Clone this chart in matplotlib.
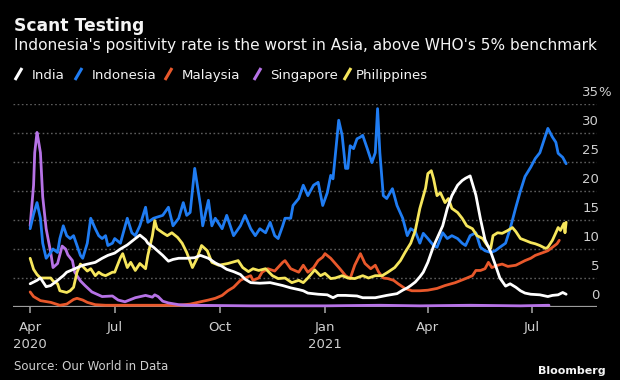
import matplotlib
matplotlib.use('Agg')
import matplotlib.pyplot as plt
import matplotlib.transforms as mtransforms
from matplotlib.lines import Line2D
import pandas as pd


# ── palette ──────────────────────────────────────────────────────────────────

BG      = '#000000'
C_GRID  = '#5c5c5c'
C_AXIS  = '#9c9c9c'
C_TICK  = '#cfcfcf'
C_TEXT  = '#f4f4f4'

C_INDIA = '#ffffff'
C_IDN   = '#1f7cf2'
C_MYS   = '#e8582b'
C_SGP   = '#b672e6'
C_PHL   = '#f6e65c'

W, H = 620, 380


# ── data (positivity rate, %) ────────────────────────────────────────────────

idn_dates = [
    '2020-04-18', '2020-04-21', '2020-04-24', '2020-04-27', '2020-04-29', '2020-05-02',
    '2020-05-06', '2020-05-08', '2020-05-12', '2020-05-14', '2020-05-17', '2020-05-20',
    '2020-05-23', '2020-05-26', '2020-05-29', '2020-06-01', '2020-06-03', '2020-06-07',
    '2020-06-10', '2020-06-14', '2020-06-17', '2020-06-20', '2020-06-23', '2020-06-25',
    '2020-06-29', '2020-07-01', '2020-07-06', '2020-07-12', '2020-07-16', '2020-07-19',
    '2020-07-23', '2020-07-28', '2020-07-30', '2020-08-04', '2020-08-12', '2020-08-17',
    '2020-08-21', '2020-08-26', '2020-08-30', '2020-09-02', '2020-09-05', '2020-09-09',
    '2020-09-14', '2020-09-16', '2020-09-21', '2020-09-24', '2020-09-27', '2020-10-03',
    '2020-10-07', '2020-10-13', '2020-10-19', '2020-10-23', '2020-10-28', '2020-11-01',
    '2020-11-05', '2020-11-10', '2020-11-14', '2020-11-18', '2020-11-21', '2020-11-25',
    '2020-11-27', '2020-12-02', '2020-12-04', '2020-12-09', '2020-12-13', '2020-12-17',
    '2020-12-22', '2020-12-26', '2020-12-30', '2021-01-03', '2021-01-06', '2021-01-08',
    '2021-01-12', '2021-01-13', '2021-01-16', '2021-01-19', '2021-01-21', '2021-01-23',
    '2021-01-26', '2021-01-29', '2021-02-01', '2021-02-03', '2021-02-07', '2021-02-11',
    '2021-02-14', '2021-02-16', '2021-02-18', '2021-02-21', '2021-02-24', '2021-03-01',
    '2021-03-05', '2021-03-10', '2021-03-14', '2021-03-17', '2021-03-21', '2021-03-25',
    '2021-03-28', '2021-04-01', '2021-04-06', '2021-04-09', '2021-04-14', '2021-04-18',
    '2021-04-22', '2021-04-27', '2021-05-01', '2021-05-04', '2021-05-08', '2021-05-13',
    '2021-05-17', '2021-05-21', '2021-05-26', '2021-05-30', '2021-06-03', '2021-06-08',
    '2021-06-12', '2021-06-17', '2021-06-21', '2021-06-25', '2021-06-30', '2021-07-04',
    '2021-07-08', '2021-07-11', '2021-07-15', '2021-07-19', '2021-07-22', '2021-07-24',
    '2021-07-28', '2021-07-31',
]
idn_vals = [
    13.5, 16.0, 18.0, 15.3, 11.0, 8.4,
    9.4, 10.0, 9.4, 11.8, 14.0, 12.3,
    11.8, 12.3, 10.6, 8.9, 8.4, 11.0,
    15.3, 13.5, 12.3, 11.8, 12.3, 10.6,
    11.0, 11.8, 11.0, 15.3, 12.8, 12.3,
    14.0, 17.2, 14.6, 15.3, 15.8, 17.2,
    14.0, 15.3, 18.0, 15.8, 16.3, 23.9,
    17.5, 14.0, 18.4, 14.0, 15.3, 13.5,
    15.8, 12.3, 14.0, 15.8, 13.5, 12.3,
    13.5, 12.8, 14.6, 12.3, 11.8, 14.0,
    15.3, 15.3, 17.5, 18.7, 21.0, 19.2,
    21.0, 21.5, 17.5, 19.7, 22.7, 22.1,
    30.1, 32.2, 29.6, 23.9, 23.9, 27.8,
    27.3, 29.0, 29.3, 29.6, 27.3, 24.9,
    26.6, 34.2, 26.6, 19.2, 18.7, 20.4,
    17.5, 15.3, 12.3, 13.5, 13.0, 11.0,
    12.7, 11.8, 10.6, 10.3, 12.8, 11.8,
    12.3, 11.8, 11.0, 10.6, 12.3, 12.8,
    10.3, 9.7, 9.4, 9.7, 10.3, 11.0,
    13.5, 17.2, 20.0, 22.5, 24.1, 25.6,
    26.6, 28.4, 30.8, 29.3, 28.4, 26.5,
    25.8, 24.7,
]

ind_dates = [
    '2020-04-18', '2020-04-24', '2020-04-27', '2020-05-02', '2020-05-06', '2020-05-12',
    '2020-05-17', '2020-05-20', '2020-05-26', '2020-06-03', '2020-06-14', '2020-06-20',
    '2020-06-25', '2020-07-01', '2020-07-06', '2020-07-12', '2020-07-19', '2020-07-23',
    '2020-07-28', '2020-07-30', '2020-08-04', '2020-08-12', '2020-08-17', '2020-08-21',
    '2020-08-26', '2020-09-02', '2020-09-09', '2020-09-14', '2020-09-21', '2020-09-27',
    '2020-10-03', '2020-10-07', '2020-10-13', '2020-10-19', '2020-10-23', '2020-10-28',
    '2020-11-05', '2020-11-14', '2020-11-25', '2020-12-02', '2020-12-09', '2020-12-13',
    '2020-12-17', '2020-12-26', '2021-01-03', '2021-01-08', '2021-01-12', '2021-01-19',
    '2021-01-29', '2021-02-03', '2021-02-14', '2021-02-24', '2021-03-05', '2021-03-10',
    '2021-03-14', '2021-03-17', '2021-03-21', '2021-03-25', '2021-03-28', '2021-04-01',
    '2021-04-06', '2021-04-14', '2021-04-18', '2021-04-22', '2021-04-27', '2021-05-01',
    '2021-05-04', '2021-05-08', '2021-05-13', '2021-05-17', '2021-05-21', '2021-05-26',
    '2021-05-30', '2021-06-03', '2021-06-08', '2021-06-12', '2021-06-17', '2021-06-21',
    '2021-06-25', '2021-06-30', '2021-07-08', '2021-07-15', '2021-07-19', '2021-07-24',
    '2021-07-28', '2021-07-31',
]
ind_vals = [
    4.0, 4.6, 5.0, 3.5, 3.7, 4.6,
    5.4, 6.0, 6.5, 7.2, 7.7, 8.4,
    8.9, 9.3, 10.0, 10.7, 11.8, 12.4,
    11.6, 11.0, 10.3, 8.9, 7.9, 8.2,
    8.4, 8.4, 8.5, 8.9, 8.4, 7.6,
    7.0, 6.5, 6.1, 5.6, 4.8, 4.2,
    4.1, 4.2, 3.7, 3.3, 3.0, 2.8,
    2.4, 2.2, 2.1, 1.6, 2.0, 2.0,
    1.9, 1.6, 1.6, 2.0, 2.3, 2.9,
    3.3, 3.7, 4.3, 5.2, 6.0, 7.7,
    10.5, 14.0, 17.0, 19.2, 21.0, 21.8,
    22.2, 22.6, 19.3, 15.2, 11.6, 9.5,
    7.3, 5.0, 3.6, 4.0, 3.4, 2.8,
    2.4, 2.2, 2.1, 1.8, 2.0, 2.1,
    2.5, 2.2,
]

phl_dates = [
    '2020-04-18', '2020-04-21', '2020-04-24', '2020-04-27', '2020-05-06', '2020-05-08',
    '2020-05-12', '2020-05-14', '2020-05-20', '2020-05-23', '2020-05-26', '2020-05-29',
    '2020-06-01', '2020-06-03', '2020-06-07', '2020-06-10', '2020-06-14', '2020-06-17',
    '2020-06-20', '2020-06-23', '2020-06-29', '2020-07-01', '2020-07-06', '2020-07-08',
    '2020-07-12', '2020-07-15', '2020-07-19', '2020-07-23', '2020-07-28', '2020-07-30',
    '2020-08-03', '2020-08-05', '2020-08-07', '2020-08-12', '2020-08-16', '2020-08-20',
    '2020-08-25', '2020-08-29', '2020-09-02', '2020-09-07', '2020-09-11', '2020-09-15',
    '2020-09-20', '2020-09-24', '2020-09-30', '2020-10-08', '2020-10-17', '2020-10-21',
    '2020-10-26', '2020-10-30', '2020-11-04', '2020-11-10', '2020-11-16', '2020-11-21',
    '2020-11-27', '2020-12-03', '2020-12-09', '2020-12-13', '2020-12-17', '2020-12-23',
    '2020-12-28', '2021-01-01', '2021-01-06', '2021-01-10', '2021-01-16', '2021-01-21',
    '2021-01-27', '2021-02-03', '2021-02-08', '2021-02-14', '2021-02-20', '2021-02-25',
    '2021-03-03', '2021-03-08', '2021-03-12', '2021-03-17', '2021-03-21', '2021-03-25',
    '2021-03-30', '2021-04-01', '2021-04-04', '2021-04-06', '2021-04-09', '2021-04-12',
    '2021-04-16', '2021-04-19', '2021-04-22', '2021-04-27', '2021-05-01', '2021-05-05',
    '2021-05-10', '2021-05-14', '2021-05-19', '2021-05-23', '2021-05-26', '2021-05-28',
    '2021-06-01', '2021-06-05', '2021-06-10', '2021-06-14', '2021-06-17', '2021-06-21',
    '2021-06-25', '2021-06-30', '2021-07-04', '2021-07-08', '2021-07-13', '2021-07-15',
    '2021-07-19', '2021-07-22', '2021-07-24', '2021-07-26', '2021-07-29', '2021-07-30',
    '2021-07-31',
]
phl_vals = [
    8.4, 6.5, 5.6, 5.0, 5.0, 4.5,
    4.0, 2.8, 2.5, 2.8, 3.4, 6.0,
    7.4, 7.0, 6.2, 6.6, 5.4, 6.0,
    5.6, 5.4, 6.0, 6.0, 8.5, 9.2,
    6.8, 7.7, 6.3, 7.5, 6.6, 8.9,
    12.3, 14.9, 13.5, 12.8, 12.3, 12.8,
    12.0, 11.0, 9.4, 6.8, 8.4, 10.6,
    9.7, 7.7, 7.2, 7.5, 8.0, 6.8,
    6.1, 6.6, 6.3, 6.6, 5.4, 4.9,
    5.0, 4.2, 4.6, 4.2, 5.0, 6.4,
    5.4, 5.8, 4.9, 5.0, 5.4, 5.0,
    4.9, 5.4, 5.0, 5.4, 5.4, 6.0,
    6.8, 8.0, 9.4, 11.0, 13.2, 17.0,
    20.5, 23.0, 23.5, 22.1, 19.2, 19.7,
    18.0, 18.7, 17.0, 16.3, 15.3, 14.0,
    13.5, 12.3, 11.8, 10.6, 10.1, 12.3,
    12.8, 12.7, 13.2, 13.7, 13.0, 11.8,
    11.5, 11.1, 10.9, 10.6, 10.1, 10.3,
    11.5, 12.8, 13.7, 13.2, 14.4, 12.8,
    14.6,
]

mys_dates = [
    '2020-04-18', '2020-04-21', '2020-04-27', '2020-05-06', '2020-05-14', '2020-05-20',
    '2020-05-26', '2020-05-29', '2020-06-03', '2020-06-07', '2020-06-14', '2020-06-23',
    '2020-07-06', '2020-07-23', '2020-08-12', '2020-08-26', '2020-09-05', '2020-09-14',
    '2020-09-21', '2020-09-27', '2020-10-03', '2020-10-08', '2020-10-13', '2020-10-19',
    '2020-10-23', '2020-10-28', '2020-10-30', '2020-11-04', '2020-11-07', '2020-11-12',
    '2020-11-18', '2020-11-25', '2020-11-27', '2020-12-02', '2020-12-09', '2020-12-13',
    '2020-12-17', '2020-12-22', '2020-12-26', '2020-12-30', '2021-01-01', '2021-01-06',
    '2021-01-10', '2021-01-14', '2021-01-19', '2021-01-23', '2021-01-27', '2021-02-01',
    '2021-02-05', '2021-02-10', '2021-02-14', '2021-02-17', '2021-02-21', '2021-02-25',
    '2021-03-02', '2021-03-06', '2021-03-12', '2021-03-18', '2021-03-25', '2021-04-01',
    '2021-04-09', '2021-04-16', '2021-04-25', '2021-05-04', '2021-05-10', '2021-05-13',
    '2021-05-17', '2021-05-21', '2021-05-24', '2021-05-27', '2021-06-01', '2021-06-05',
    '2021-06-10', '2021-06-17', '2021-06-25', '2021-06-30', '2021-07-04', '2021-07-11',
    '2021-07-15', '2021-07-19', '2021-07-23', '2021-07-25',
]
mys_vals = [
    2.6, 1.8, 1.1, 0.8, 0.3, 0.5,
    1.3, 1.5, 1.2, 0.8, 0.4, 0.3,
    0.3, 0.3, 0.3, 0.3, 0.5, 0.9,
    1.2, 1.5, 2.0, 2.8, 3.4, 4.6,
    5.0, 5.4, 4.6, 5.0, 6.0, 6.6,
    6.2, 7.7, 8.0, 6.6, 6.0, 7.2,
    6.0, 6.8, 8.0, 8.6, 9.2, 8.4,
    7.5, 6.6, 5.4, 4.9, 7.2, 9.2,
    7.5, 6.6, 7.2, 6.0, 5.0, 4.9,
    4.6, 4.0, 3.2, 2.8, 2.8, 2.9,
    3.2, 3.7, 4.2, 4.9, 5.4, 6.3,
    6.3, 6.6, 7.7, 6.8, 7.2, 7.4,
    7.0, 7.2, 8.0, 8.4, 8.9, 9.4,
    9.7, 10.3, 10.9, 11.5,
]

sgp_dates = [
    '2020-04-18', '2020-04-21', '2020-04-22', '2020-04-24', '2020-04-25', '2020-04-27',
    '2020-04-29', '2020-05-02', '2020-05-06', '2020-05-08', '2020-05-12', '2020-05-16',
    '2020-05-19', '2020-05-21', '2020-05-25', '2020-05-27', '2020-06-01', '2020-06-05',
    '2020-06-11', '2020-06-20', '2020-06-29', '2020-07-04', '2020-07-10', '2020-07-19',
    '2020-07-28', '2020-08-03', '2020-08-05', '2020-08-08', '2020-08-12', '2020-08-17',
    '2020-08-26', '2020-09-05', '2020-10-28', '2021-01-01', '2021-02-18', '2021-03-25',
    '2021-05-08', '2021-06-21', '2021-07-16',
]
sgp_vals = [
    14.0, 21.0, 26.6, 30.1, 29.0, 26.6,
    19.0, 13.5, 9.4, 6.8, 7.5, 10.5,
    10.0, 9.0, 8.0, 6.0, 4.5, 3.7,
    2.6, 1.8, 1.9, 1.2, 0.9, 1.6,
    2.0, 1.7, 2.1, 1.8, 1.0, 0.7,
    0.4, 0.3, 0.2, 0.2, 0.3, 0.2,
    0.3, 0.2, 0.3,
]

y_ticks = [0, 5, 10, 15, 20, 25, 30, 35]
x_tick_dates = ['2020-04-18', '2020-07-01', '2020-10-01', '2021-01-01', '2021-04-01', '2021-07-01']
x_tick_labels = ['Apr\n2020', 'Jul', 'Oct', 'Jan\n2021', 'Apr', 'Jul']

series = [
    # label, dates, values, colour, zorder
    ('Malaysia',    mys_dates, mys_vals, C_MYS,   3),
    ('Singapore',   sgp_dates, sgp_vals, C_SGP,   4),
    ('Indonesia',   idn_dates, idn_vals, C_IDN,   5),
    ('Philippines', phl_dates, phl_vals, C_PHL,   6),
    ('India',       ind_dates, ind_vals, C_INDIA, 7),
]

legend_items = [('India', C_INDIA), ('Indonesia', C_IDN), ('Malaysia', C_MYS),
                ('Singapore', C_SGP), ('Philippines', C_PHL)]


# ── helpers ──────────────────────────────────────────────────────────────────

def fx(px):
    return px / W

def fy(py):
    return 1 - py / H


# ── chart ────────────────────────────────────────────────────────────────────

def main():
    plt.rcParams['font.family'] = 'DejaVu Sans'
    fig = plt.figure(figsize=(W / 100, H / 100), dpi=100, facecolor=BG)

    ax = fig.add_axes([fx(13), fy(307), fx(597) - fx(13), fy(104) - fy(307)])
    ax.set_facecolor(BG)
    for s in ax.spines.values():
        s.set_visible(False)

    # gridlines + baseline
    for v in y_ticks[1:]:
        ax.axhline(v, color=C_GRID, lw=1.0, ls=(0, (1.2, 1.8)), zorder=1)
    ax.axhline(0, color=C_AXIS, lw=1.6, zorder=2)

    for name, d, v, c, z in series:
        ax.plot(pd.to_datetime(d), v, color=c, lw=2.0, zorder=z,
                solid_joinstyle='round', solid_capstyle='round', clip_on=False)

    ax.set_ylim(0, 35)
    ax.set_xlim(pd.Timestamp('2020-04-03'), pd.Timestamp('2021-08-27'))

    ax.set_yticks([])
    ax.set_xticks(pd.to_datetime(x_tick_dates))
    ax.set_xticklabels(x_tick_labels, linespacing=1.4)
    ax.tick_params(axis='x', length=4, width=1.2, color=C_AXIS, colors=C_TICK,
                   labelsize=9.5, pad=6)
    for lab in ax.get_xticklabels():
        lab.set_color(C_TICK)

    # right-hand y labels sitting on top of their gridlines
    trans = mtransforms.blended_transform_factory(ax.transAxes, ax.transData)
    for v in y_ticks:
        ax.annotate(str(v), xy=(1, v), xycoords=trans, xytext=(1.5, 5.5),
                    textcoords='offset points', ha='right', va='baseline',
                    fontsize=9.5, color=C_TICK, annotation_clip=False)
    ax.annotate('%', xy=(1, 35), xycoords=trans, xytext=(1.0, 5.5),
                textcoords='offset points', ha='left', va='baseline',
                fontsize=9.5, color=C_TICK, annotation_clip=False)

    # titles
    fig.text(fx(14), fy(31), 'Scant Testing', fontsize=12.3, fontweight='bold',
             color=C_TEXT, va='baseline')
    fig.text(fx(14), fy(50),
             "Indonesia's positivity rate is the worst in Asia, above WHO's 5% benchmark",
             fontsize=11.1, color=C_TEXT, va='baseline')

    # legend: coloured slashes + labels
    slash_x = [15, 75, 165, 254, 344]
    text_x = [32, 92, 182, 270, 356]
    for (name, c), sx, tx in zip(legend_items, slash_x, text_x):
        fig.add_artist(Line2D([fx(sx), fx(sx + 7)], [fy(80), fy(68)],
                              transform=fig.transFigure, color=c, lw=2.2,
                              solid_capstyle='butt'))
        fig.text(fx(tx), fy(79), name, fontsize=9.6, color=C_TEXT, va='baseline')

    # footer
    fig.text(fx(14), fy(367), 'Source: Our World in Data', fontsize=8.5,
             color=C_TICK, va='center')
    fig.text(fx(606), fy(371), 'Bloomberg', fontsize=8, fontweight='bold',
             color=C_TEXT, va='center', ha='right')

    fig.savefig('out.png', dpi=100, facecolor=BG)
    plt.close(fig)


if __name__ == '__main__':
    main()
